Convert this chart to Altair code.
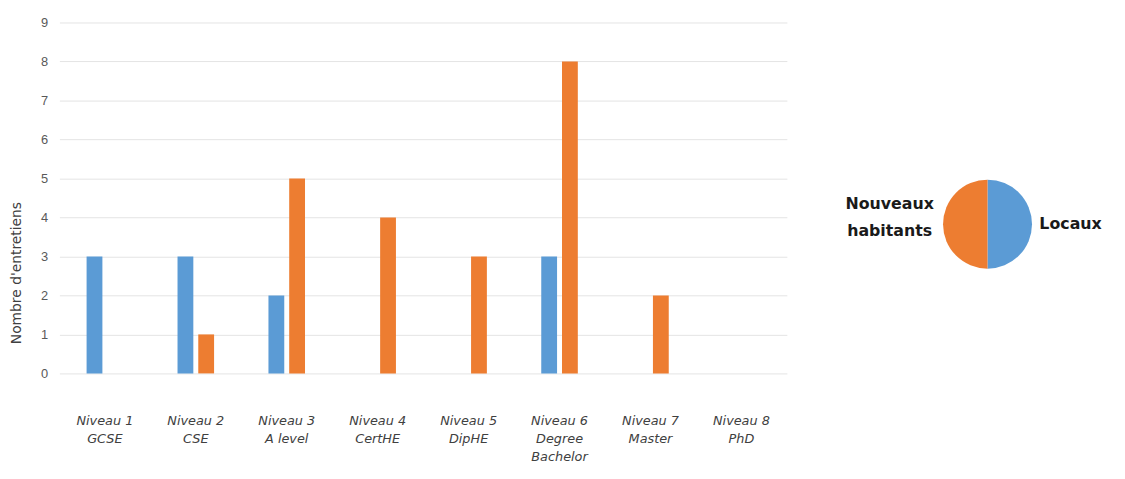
import altair as alt
import pandas as pd

categories = ["Niveau 1|GCSE", "Niveau 2|CSE", "Niveau 3|A level", "Niveau 4|CertHE",
              "Niveau 5|DipHE", "Niveau 6|Degree|Bachelor", "Niveau 7|Master", "Niveau 8|PhD"]
series = ["Locaux", "Nouveaux habitants"]
locaux = [3, 3, 2, 0, 0, 3, 0, 0]
nouveaux = [0, 1, 5, 4, 3, 8, 2, 0]
pie_labels = ["Locaux", "Nouveaux|habitants"]
pie_values = [1, 1]
colors = ["#5B9BD5", "#ED7D31"]
y_ticks = list(range(0, 10))

rows = []
for c, a, b in zip(categories, locaux, nouveaux):
    rows.append({"niveau": c, "groupe": series[0], "value": a})
    rows.append({"niveau": c, "groupe": series[1], "value": b})
df = pd.DataFrame(rows)

pie_df = pd.DataFrame({"groupe": series, "label": pie_labels, "v": pie_values, "ord": [0, 1]})

color_scale = alt.Scale(domain=series, range=colors)

bars = alt.Chart(df).mark_bar().encode(
    x=alt.X("niveau:N", sort=categories,
            scale=alt.Scale(paddingInner=0.598, paddingOuter=0.299),
            axis=alt.Axis(title=None, labelExpr="split(datum.label, '|')", labelAngle=0,
                          labelFontStyle="italic", labelFont="DejaVu Sans", labelFontSize=13,
                          labelColor="#404040", labelPadding=42, labelLineHeight=18,
                          labelBaseline="top", ticks=False, domain=False, grid=False)),
    xOffset=alt.XOffset("groupe:N", sort=series,
                        scale=alt.Scale(paddingInner=0.238, paddingOuter=0)),
    y=alt.Y("value:Q", scale=alt.Scale(domain=[0, 9], nice=False),
            axis=alt.Axis(title="Nombre d'entretiens", values=y_ticks, format="d",
                          ticks=False, domain=False, gridColor="#e4e4e4",
                          labelFont="Liberation Sans", labelFontSize=13, labelColor="#595959",
                          labelPadding=12, titleFont="DejaVu Sans", titleFontSize=14,
                          titleFontWeight="normal", titleColor="#404040",
                          titleY=253, titleX=-36)),
    color=alt.Color("groupe:N", scale=color_scale, legend=None),
).properties(width=736, height=355)

base = alt.Chart(pie_df).encode(
    theta=alt.Theta("v:Q", stack=True),
    order=alt.Order("ord:Q"),
)
arc = base.mark_arc(outerRadius=45).encode(
    color=alt.Color("groupe:N", scale=color_scale, legend=None),
    x=alt.value(203), y=alt.value(204),
)
txt_style = dict(fontWeight="bold", fontSize=16, font="DejaVu Sans",
                 color="#1a1a1a", lineBreak="|", lineHeight=27)
txt_loc = base.mark_text(radius=84, **txt_style).encode(
    text="label:N", x=alt.value(203), y=alt.value(204),
    opacity=alt.condition("datum.ord == 0", alt.value(1), alt.value(0)),
)
txt_nouv = base.mark_text(radius=99, dy=-20, **txt_style).encode(
    text="label:N", x=alt.value(203), y=alt.value(204),
    opacity=alt.condition("datum.ord == 1", alt.value(1), alt.value(0)),
)
pie = alt.layer(arc, txt_loc, txt_nouv).properties(width=318, height=355)

chart = alt.hconcat(bars, pie, spacing=0).properties(
    padding={"left": 2, "top": 6, "right": 0, "bottom": 0}
).configure_view(stroke=None)

chart.save("out.html", embed_options={"renderer": "svg", "actions": False})
